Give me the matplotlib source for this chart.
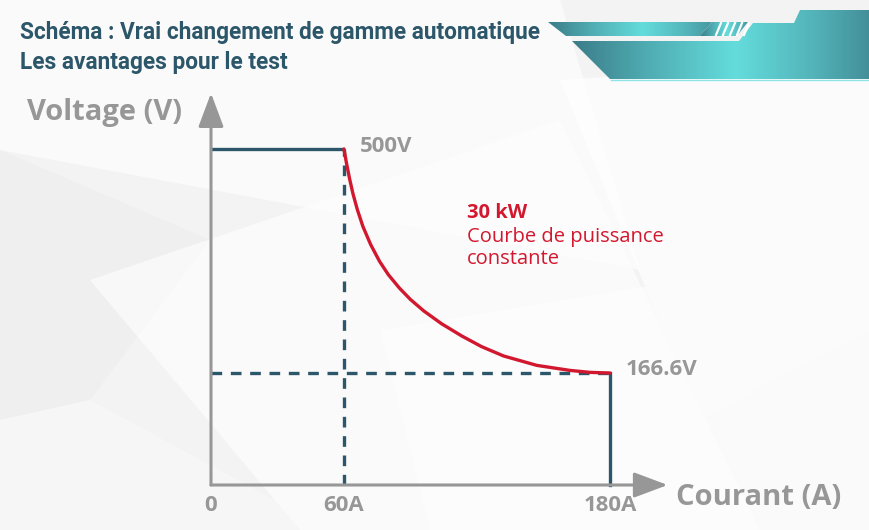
import numpy as np
import matplotlib
matplotlib.use("Agg")
import matplotlib.pyplot as plt
from matplotlib.patches import Polygon

i_max = 180
i_knee = 60
v_max = 500
v_min = 166.6
courbe_i = [60, 61, 62.5, 64, 66, 68.5, 72, 76, 80, 85, 90, 96, 104, 113,
            122, 132, 147, 162, 171, 180]
courbe_v = [500, 481, 456, 434, 410, 385, 358, 333, 313, 293, 276, 259,
            240, 222, 206, 192, 178, 170.5, 167.6, 166.6]
ticks_i = [0, 60, 180]
ticks_lbl = ['0', '60A', '180A']

W, H = 870, 530
TEAL = '#2c5669'
GRIS = '#979797'
ROUGE = '#d2182f'
lbl_font = ['Open Sans', 'DejaVu Sans']
titre_font = ['Roboto', 'DejaVu Sans']

fig = plt.figure(figsize=(W / 100, H / 100), dpi=100)
fig.patch.set_facecolor('#f3f3f3')

# fond (coordonnées pixels)
bg = fig.add_axes([0, 0, 1, 1])
bg.set_xlim(0, W)
bg.set_ylim(H, 0)
bg.axis('off')
bg.set_zorder(0)

facettes = [
    ([(0, 0), (560, 0), (640, 270), (0, 150)], '#fbfbfb', 0.9),
    ([(0, 150), (210, 240), (90, 400), (0, 420)], '#ececec', 0.5),
    ([(560, 80), (870, 60), (870, 330), (700, 420)], '#ffffff', 0.7),
    ([(380, 330), (870, 250), (870, 530), (430, 530)], '#fbfbfb', 0.9),
    ([(0, 420), (90, 400), (330, 530), (0, 530)], '#f7f7f7', 0.9),
    ([(90, 280), (560, 120), (760, 530), (300, 530)], '#fdfdfd', 0.7),
]
for pts, c, a in facettes:
    bg.add_patch(Polygon(pts, closed=True, fc=c, ec='none', alpha=a))

# bandeau décoratif en haut à droite
grad = np.interp(np.linspace(0, 1, 400), [0, 0.25, 0.55, 0.8, 1],
                 [0.0, 0.5, 1.0, 0.6, 0.2])
cmap = matplotlib.colors.LinearSegmentedColormap.from_list(
    'bandeau', ['#3b7c88', '#64dcdc'])


def forme(pts, x0, x1):
    poly = Polygon(pts, closed=True, fc='none', ec='none')
    bg.add_patch(poly)
    im = bg.imshow(grad[None, :], extent=(x0, x1, 90, 0), cmap=cmap,
                   aspect='auto', vmin=0, vmax=1, zorder=1)
    im.set_clip_path(poly)


forme([(548, 22), (712, 22), (700, 36), (566, 36)], 548, 720)
forme([(712, 22), (748, 22), (737, 36), (700, 36)], 700, 750)
for k in range(5):
    x = 716 + k * 7
    bg.plot([x + 5, x], [23, 35], color='white', lw=1.6, zorder=2)
forme([(572, 41), (739, 41), (753, 23), (794, 23), (800, 10), (870, 10),
       (870, 79), (610, 79)], 572, 870)
bg.plot([611, 870], [79.5, 79.5], color='#8fe3e8', lw=1, zorder=2)

# titre
bg.text(20, 32, 'Schéma : Vrai changement de gamme automatique',
        family=titre_font, weight='bold', fontsize=16.3, color=TEAL,
        va='center', ha='left')
bg.text(20, 63, 'Les avantages pour le test', family=titre_font,
        weight='bold', fontsize=16.3, color=TEAL, va='center', ha='left')

# axes du schéma
ax = fig.add_axes([211 / W, (H - 485) / H, 399 / W, 336 / H])
ax.set_xlim(0, i_max)
ax.set_ylim(0, v_max)
ax.patch.set_alpha(0)
ax.axis('off')
ax.set_zorder(1)

ax.annotate('', xy=(0, 583), xytext=(0, 0), annotation_clip=False,
            arrowprops=dict(arrowstyle='-|>,head_length=1.6,head_width=0.6',
                            mutation_scale=13, lw=2.2, color=GRIS,
                            shrinkA=0, shrinkB=0))
ax.annotate('', xy=(206, 0), xytext=(0, 0), annotation_clip=False,
            arrowprops=dict(arrowstyle='-|>,head_length=1.6,head_width=0.6',
                            mutation_scale=13, lw=2.2, color=GRIS,
                            shrinkA=0, shrinkB=0))

ax.plot([0, i_knee], [v_max, v_max], color=TEAL, lw=2.4,
        solid_capstyle='butt', clip_on=False)
ax.plot([i_max, i_max], [0, v_min], color=TEAL, lw=2.4, clip_on=False)
ax.plot([i_knee, i_knee], [0, v_max], color=TEAL, lw=2.4,
        dashes=(3.2, 2.6), clip_on=False)
ax.plot([0, i_max], [v_min, v_min], color=TEAL, lw=2.4,
        dashes=(3.2, 2.6), clip_on=False)
ax.plot(courbe_i, courbe_v, color=ROUGE, lw=2.4, clip_on=False,
        solid_capstyle='round', solid_joinstyle='round', zorder=3)

for x, t in zip(ticks_i, ticks_lbl):
    ax.text(x, -30, t, family=lbl_font, weight='bold', fontsize=16,
            color=GRIS, ha='center', va='center')
ax.text(i_knee + 7, v_max + 3, '500V', family=lbl_font, weight='bold',
        fontsize=16, color=GRIS, ha='left', va='center')
ax.text(i_max + 7, v_min + 5, '166.6V', family=lbl_font, weight='bold',
        fontsize=16, color=GRIS, ha='left', va='center')

ax.text(-48, 554, 'Voltage (V)', family=lbl_font, weight='bold',
        fontsize=21, color=GRIS, ha='center', va='center')
ax.text(210, -18, 'Courant (A)', family=lbl_font, weight='bold',
        fontsize=21, color=GRIS, ha='left', va='center')

ax.text(115.5, 405, '30 kW', family=lbl_font, weight='bold', fontsize=14.5,
        color=ROUGE, ha='left', va='center')
ax.text(115.5, 353, 'Courbe de puissance\nconstante', family=lbl_font,
        fontsize=14.5, color=ROUGE, ha='left', va='center', linespacing=1.1)

fig.savefig('out.png', dpi=100, facecolor=fig.get_facecolor())
